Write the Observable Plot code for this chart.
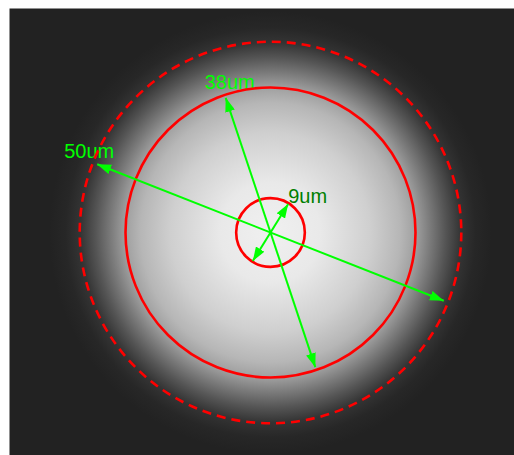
<!DOCTYPE html>
<html><head><meta charset="utf-8">
<script src="https://cdn.jsdelivr.net/npm/d3@7"></script>
<script src="https://cdn.jsdelivr.net/npm/@observablehq/plot@0.6"></script>
<style>body{margin:0;background:#fff}</style>
</head><body><div id="chart"></div>
<script>
// Circle diameters (um)
const circleLabels = ["9um", "38um", "50um"];
const circleDiameters = [9, 38, 50];
const circleDashed = [false, false, true];

// Diameter arrows: tip-to-tip length (um) and direction of the labelled tip (degrees, y up)
const arrowLabels = ["9um", "38um", "50um"];
const arrowLengths = [8.8, 37.2, 48.8];
const arrowAngles = [58.2, 108.4, 158.5];

// Glow extent (um)
const glowRadius = 29.0;

const k = 145 / 19;            // pixels per um
const cx = 270, cy = 232;      // pixel centre
const W = 514, H = 455, mL = 9, mT = 8;

const circles = circleLabels.map((l, i) => ({label: l, r: circleDiameters[i] / 2, dashed: circleDashed[i]}));
const arrows = arrowLabels.map((l, i) => {
  const a = arrowAngles[i] * Math.PI / 180, h = arrowLengths[i] / 2;
  return {label: l, x1: -h * Math.cos(a), y1: -h * Math.sin(a), x2: h * Math.cos(a), y2: h * Math.sin(a)};
});
// label placement relative to labelled tip (pixels)
const labelOffset = {"9um": [0, -7], "38um": [-21, -15], "50um": [-33, -13]};
const labelColor = {"9um": "#008000", "38um": "#00ff00", "50um": "#00ff00"};
const labels = arrows.map(d => ({
  label: d.label,
  x: d.x2 + labelOffset[d.label][0] / k,
  y: d.y2 - labelOffset[d.label][1] / k,
  color: labelColor[d.label]
}));

const svg = Plot.plot({
  width: W, height: H,
  marginLeft: mL, marginTop: mT, marginRight: 0, marginBottom: 0,
  x: {domain: [(mL - cx) / k, (W - cx) / k], axis: null},
  y: {domain: [-(H - cy) / k, (cy - mT) / k], axis: null},
  r: {type: "linear", domain: [0, 1], range: [0, k], clamp: false},
  color: {type: "identity"},
  style: {background: "white", overflow: "visible"},
  marks: [
    Plot.frame({fill: "#222222", stroke: null}),
    Plot.dot([{r: glowRadius}], {x: () => 0, y: () => 0, r: "r", fill: "url(#glow)", stroke: null}),
    Plot.text(labels, {x: "x", y: "y", text: "label", fill: "color", textAnchor: "start", fontSize: 20, fontFamily: "Liberation Sans, Arial, sans-serif"}),
    Plot.dot(circles.filter(d => !d.dashed), {x: () => 0, y: () => 0, r: "r", stroke: "#ff0000", strokeWidth: 2.6, fill: "none"}),
    Plot.dot(circles.filter(d => d.dashed), {x: () => 0, y: () => 0, r: "r", stroke: "#ff0000", strokeWidth: 2.6, fill: "none", strokeDasharray: "9,6"}),
    Plot.link(arrows, {x1: "x1", y1: "y1", x2: "x2", y2: "y2", stroke: "#00ff00", strokeWidth: 2})
  ]
});

const s = d3.select(svg);
const defs = s.insert("defs", ":first-child");
const g = defs.append("radialGradient").attr("id", "glow");
const gpx = glowRadius * k;
[[0, 240], [50, 233], [100, 207], [130, 182], [145, 160], [160, 122], [175, 85], [190, 52], [205, 39], [gpx, 34]]
  .forEach(([r, v]) => g.append("stop").attr("offset", Math.min(1, r / gpx)).attr("stop-color", `rgb(${v},${v},${v})`));
defs.append("marker").attr("id", "ah").attr("markerUnits", "userSpaceOnUse")
  .attr("viewBox", "0 0 14 10").attr("markerWidth", 14).attr("markerHeight", 10)
  .attr("refX", 14).attr("refY", 5).attr("orient", "auto-start-reverse")
  .append("path").attr("d", "M0,0L14,5L0,10Z").attr("fill", "#00ff00");
s.selectAll("g").filter(function() { return this.getAttribute("stroke") === "#00ff00"; })
  .selectAll("path").attr("marker-start", "url(#ah)").attr("marker-end", "url(#ah)");

document.getElementById("chart").appendChild(svg);
</script>
</body></html>
